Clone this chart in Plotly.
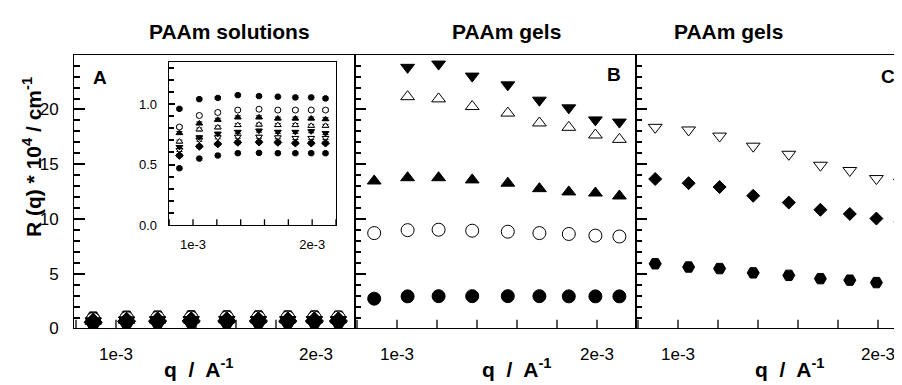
import plotly.graph_objects as go

# ---------------- data ----------------
q = [0.886e-3, 1.053e-3, 1.208e-3, 1.376e-3, 1.554e-3, 1.712e-3, 1.859e-3, 1.992e-3, 2.112e-3]

# Panel A (PAAm solutions) -- shown in main panel and in the inset
sol_hex_hi        = [0.96, 1.04, 1.05, 1.073, 1.065, 1.06, 1.054, 1.054, 1.046]
sol_circle_open   = [0.81, 0.905, 0.93, 0.95, 0.957, 0.95, 0.95, 0.95, 0.95]
sol_tri_up        = [0.76, 0.84, 0.87, 0.89, 0.89, 0.88, 0.88, 0.88, 0.875]
sol_tri_up_open   = [0.69, 0.79, 0.807, 0.826, 0.83, 0.826, 0.826, 0.82, 0.82]
sol_tri_down      = [0.645, 0.725, 0.755, 0.77, 0.78, 0.77, 0.77, 0.775, 0.76]
sol_tri_down_open = [0.62, 0.705, 0.725, 0.73, 0.73, 0.725, 0.72, 0.72, 0.72]
sol_diamond       = [0.575, 0.65, 0.67, 0.683, 0.685, 0.683, 0.677, 0.677, 0.677]
sol_hex_lo        = [0.47, 0.55, 0.575, 0.594, 0.597, 0.594, 0.594, 0.594, 0.594]
sol_err           = [0.012] * 9

# Panel B (PAAm gels)
gelB_tri_down      = [None, 23.85, 24.15, 23.05, 22.25, 20.85, 20.15, 19.05, 18.85]
gelB_tri_up_open   = [None, 21.17, 20.97, 20.27, 19.67, 18.77, 18.37, 17.67, 17.27]
gelB_tri_up        = [13.47, 13.77, 13.77, 13.57, 13.27, 12.77, 12.47, 12.37, 12.1]
gelB_circle_open   = [8.71, 8.98, 9.02, 8.93, 8.84, 8.71, 8.63, 8.48, 8.40]
gelB_circle        = [2.72, 2.93, 2.95, 2.95, 2.95, 2.95, 2.93, 2.93, 2.93]

# Panel C (PAAm gels)
gelC_tri_down_open = [18.37, 18.13, 17.57, 16.65, 15.91, 14.91, 14.43, 13.69, 13.34]
gelC_diamond       = [13.65, 13.27, 12.92, 12.12, 11.5, 10.84, 10.46, 10.04, 9.75]
gelC_hexagon       = [5.91, 5.61, 5.47, 5.08, 4.85, 4.55, 4.41, 4.19, 4.14]

x_tickvals = [1.0e-3, 2.0e-3]
x_ticktext = ["1e-3", "2e-3"]
x_tick_marks = [0.8e-3, 1.0e-3, 1.2e-3, 1.4e-3, 1.6e-3, 1.8e-3, 2.0e-3, 2.2e-3]
y_tickvals = [0, 5, 10, 15, 20]
inset_y_tickvals = [0.0, 0.5, 1.0]
inset_y_ticktext = ["0.0", "0.5", "1.0"]

FONT = "Liberation Sans, Arial, sans-serif"
W, H = 902, 385
TWY = 1.5  # tick width

xr = [0.79e-3, 2.195e-3]
xr_c = [0.79e-3, 2.16e-3]
xr_in = [0.796e-3, 2.2e-3]
MAIN_PX_PER_UNIT = 281 / 25.0
INSET_PX_PER_UNIT = 168 / 1.35

fig = go.Figure()

# bottom tick marks of the q axes, drawn as short line segments in each axis' scale
def tick_trace(xa, ya, rng, length_units):
    xs, ys = [], []
    for tv in x_tick_marks:
        if rng[0] <= tv <= rng[1]:
            xs += [tv, tv, None]
            ys += [0, length_units, None]
    return go.Scatter(x=xs, y=ys, mode="lines", xaxis=xa, yaxis=ya,
                      line=dict(color="black", width=1.3), hoverinfo="skip",
                      cliponaxis=False)

fig.add_trace(tick_trace("x", "y", xr, 9 / MAIN_PX_PER_UNIT))
fig.add_trace(tick_trace("x2", "y2", xr, 9 / MAIN_PX_PER_UNIT))
fig.add_trace(tick_trace("x3", "y3", xr_c, 9 / MAIN_PX_PER_UNIT))
fig.add_trace(tick_trace("x4", "y4", xr_in, 6 / INSET_PX_PER_UNIT))

# drawing order: open symbols first, filled ones on top
sol_series = [
    (sol_hex_hi, "hexagon2", "black"),
    (sol_circle_open, "circle", "white"),
    (sol_tri_up_open, "triangle-up", "white"),
    (sol_tri_down_open, "triangle-down", "white"),
    (sol_tri_up, "triangle-up", "black"),
    (sol_tri_down, "triangle-down", "black"),
    (sol_diamond, "diamond", "black"),
    (sol_hex_lo, "hexagon2", "black"),
]

for ys, sym, fill in sol_series:
    fig.add_trace(go.Scatter(
        x=q, y=ys, mode="markers", xaxis="x", yaxis="y",
        marker=dict(symbol=sym, size=14, color=fill, line=dict(color="black", width=1)),
        hoverinfo="skip"))

for ys, sym, fill in sol_series:
    fig.add_trace(go.Scatter(
        x=q, y=ys, mode="markers", xaxis="x4", yaxis="y4",
        error_y=dict(type="data", array=sol_err, visible=True, color="black", thickness=1, width=3),
        marker=dict(symbol=sym, size=6, color=fill, line=dict(color="black", width=1)),
        hoverinfo="skip"))

gelB = [
    (gelB_tri_down, "triangle-down", "black"),
    (gelB_tri_up_open, "triangle-up", "white"),
    (gelB_tri_up, "triangle-up", "black"),
    (gelB_circle_open, "circle", "white"),
    (gelB_circle, "circle", "black"),
]
for ys, sym, fill in gelB:
    fig.add_trace(go.Scatter(
        x=q, y=ys, mode="markers", xaxis="x2", yaxis="y2",
        marker=dict(symbol=sym, size=13 if sym == "circle" else 12, color=fill,
                    line=dict(color="black", width=1)),
        hoverinfo="skip"))

gelC = [
    (gelC_tri_down_open, "triangle-down", "white", 12),
    (gelC_diamond, "diamond", "black", 10),
    (gelC_hexagon, "hexagon2", "black", 12),
]
for ys, sym, fill, sz in gelC:
    fig.add_trace(go.Scatter(
        x=q, y=ys, mode="markers", xaxis="x3", yaxis="y3",
        marker=dict(symbol=sym, size=sz, color=fill, line=dict(color="black", width=1)),
        hoverinfo="skip"))

yb, yt = 1 - 329 / H, 1 - 48 / H

def xax(domain, rng, anchor):
    return dict(domain=domain, range=rng, anchor=anchor,
                tickvals=x_tickvals, ticktext=x_ticktext, ticks="",
                ticklabelstandoff=10,
                showline=True, mirror=True, linecolor="black", linewidth=1,
                showgrid=False, zeroline=False,
                tickfont=dict(family=FONT, size=17, color="black"))

def yax(anchor, labels, mirror):
    return dict(domain=[yb, yt], range=[0, 25], anchor=anchor,
                tickvals=y_tickvals, ticks="inside", ticklen=11, tickcolor="black", tickwidth=TWY,
                minor=dict(dtick=1, tick0=0, ticks="inside", ticklen=6,
                           tickcolor="black", tickwidth=TWY, showgrid=False),
                showticklabels=labels,
                ticklabelstandoff=11,
                showline=True, mirror=mirror, linecolor="black", linewidth=1,
                showgrid=False, zeroline=False,
                tickfont=dict(family=FONT, size=17, color="black"))

fig.update_layout(
    width=W, height=H, autosize=False,
    margin=dict(l=0, r=0, t=0, b=0),
    paper_bgcolor="white", plot_bgcolor="white",
    showlegend=False,
    font=dict(family=FONT, color="black"),
    xaxis=xax([66 / W, 347 / W], xr, "y"),
    xaxis2=xax([347 / W, 628 / W], xr, "y2"),
    xaxis3=xax([628 / W, 1.0], xr_c, "y3"),
    yaxis=yax("x", True, True),
    yaxis2=yax("x2", False, True),
    yaxis3=yax("x3", False, False),
    xaxis4=dict(domain=[160.7 / W, 328 / W], range=xr_in, anchor="y4",
                tickvals=x_tickvals, ticktext=x_ticktext, ticks="",
                ticklabelstandoff=7,
                showline=True, mirror=True, linecolor="black", linewidth=1,
                showgrid=False, zeroline=False,
                tickfont=dict(family=FONT, size=13, color="black")),
    yaxis4=dict(domain=[1 - 223 / H, 1 - 55 / H], range=[0, 1.35], anchor="x4",
                tickvals=inset_y_tickvals, ticktext=inset_y_ticktext,
                ticks="inside", ticklen=6, tickcolor="black", tickwidth=TWY,
                minor=dict(dtick=0.1, tick0=0, ticks="inside", ticklen=5,
                           tickcolor="black", tickwidth=TWY, showgrid=False),
                ticklabelstandoff=8,
                showline=True, mirror=True, linecolor="black", linewidth=1,
                showgrid=False, zeroline=False,
                tickfont=dict(family=FONT, size=13, color="black")),
)

def ann(text, x, y, size, angle=0):
    fig.add_annotation(text=text,
                       x=x / W, y=1 - y / H, xref="paper", yref="paper",
                       xanchor="center", yanchor="middle", showarrow=False,
                       textangle=angle,
                       font=dict(family=FONT, size=size, color="black", weight="bold"))

ann("PAAm solutions", 221, 24, 21)
ann("PAAm gels", 498, 24, 21)
ann("PAAm gels", 720, 24, 21)
ann("A", 92, 71, 19)
ann("B", 606, 68, 19)
ann("C", 880, 70, 19)
ann("R (q) * 10<sup>4</sup> / cm<sup>-1</sup>", 24, 153, 21, angle=-90)
ann("q&nbsp; /&nbsp; A<sup>-1</sup>", 190, 370, 21)
ann("q&nbsp; /&nbsp; A<sup>-1</sup>", 508, 370, 21)
ann("q&nbsp; /&nbsp; A<sup>-1</sup>", 781, 370, 21)

fig.write_html("out.html")
